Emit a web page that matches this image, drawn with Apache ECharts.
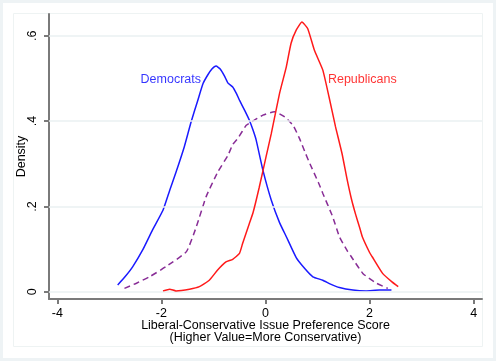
<!DOCTYPE html>
<html><head><meta charset="utf-8">
<script src="https://cdn.jsdelivr.net/npm/echarts@6/dist/echarts.min.js"></script>
<style>html,body{margin:0;padding:0;background:#fff}#c{width:496px;height:361px}</style>
</head><body><div id="c"></div>
<script>
// Democrats density
var democrats = [[-2.84,0.016],[-2.70,0.035],[-2.55,0.059],[-2.36,0.098],[-2.17,0.145],[-1.97,0.191],[-1.84,0.238],[-1.72,0.28],[-1.56,0.34],[-1.43,0.398],[-1.30,0.449],[-1.20,0.488],[-1.11,0.508],[-1.03,0.522],[-0.95,0.529],[-0.87,0.522],[-0.79,0.506],[-0.72,0.489],[-0.63,0.48],[-0.56,0.465],[-0.5,0.449],[-0.40,0.425],[-0.31,0.402],[-0.24,0.379],[-0.18,0.356],[-0.05,0.285],[0.11,0.215],[0.27,0.162],[0.40,0.129],[0.59,0.08],[0.75,0.055],[0.91,0.035],[1.10,0.027],[1.25,0.018],[1.42,0.010],[1.68,0.004],[1.93,0.002],[2.19,0.004],[2.42,0.004]];
// All respondents density (dashed)
var allResp = [[-2.71,0.008],[-2.48,0.02],[-2.23,0.035],[-1.91,0.059],[-1.52,0.094],[-1.33,0.152],[-1.14,0.223],[-0.92,0.28],[-0.72,0.32],[-0.63,0.345],[-0.53,0.36],[-0.37,0.39],[-0.27,0.398],[-0.05,0.414],[0.17,0.422],[0.37,0.41],[0.53,0.39],[0.65,0.36],[0.77,0.324],[0.85,0.301],[1.02,0.255],[1.10,0.231],[1.29,0.176],[1.42,0.129],[1.58,0.094],[1.65,0.082],[1.87,0.043],[2.13,0.020],[2.35,0.008]];
// Republicans density
var republicans = [[-1.97,0.002],[-1.84,0.006],[-1.72,0.002],[-1.46,0.006],[-1.27,0.012],[-1.08,0.027],[-0.92,0.051],[-0.76,0.07],[-0.63,0.076],[-0.5,0.09],[-0.44,0.113],[-0.31,0.16],[-0.24,0.185],[-0.12,0.245],[0.01,0.316],[0.11,0.37],[0.27,0.465],[0.40,0.527],[0.49,0.582],[0.59,0.613],[0.70,0.632],[0.81,0.617],[0.94,0.566],[1.10,0.52],[1.22,0.457],[1.345,0.387],[1.47,0.324],[1.57,0.262],[1.65,0.218],[1.73,0.182],[1.81,0.15],[1.86,0.129],[2.0,0.092],[2.05,0.082],[2.25,0.043],[2.43,0.023],[2.55,0.012]];
var xTicks = [-4,-2,0,2,4];
var yTicks = [0,0.2,0.4,0.6];
var yTickLabels = ['0','.2','.4','.6'];
var seriesLabels = [{name:'Democrats', x:-1.82, y:0.498, color:'#0000ff'},{name:'Republicans', x:1.86, y:0.498, color:'#ff0000'}];

var FONT = 'Liberation Sans';
var chart = echarts.init(document.getElementById('c'), null, {renderer:'canvas'});
chart.setOption({
  animation:false,
  backgroundColor:'#ffffff',
  textStyle:{fontFamily:FONT},
  graphic:[
    {type:'rect', shape:{x:1.5,y:1.5,width:493,height:358}, style:{fill:'none', stroke:'#eef3f5', lineWidth:3}, z:-10},
    {type:'rect', shape:{x:13.5,y:13.5,width:469,height:333}, style:{fill:'none', stroke:'#eef3f3', lineWidth:1}, z:-10}
  ],
  grid:{left:49, right:14, top:14, bottom:62},
  xAxis:{type:'value', min:-4.16, max:4.16,
    axisLine:{show:true, onZero:false, lineStyle:{color:'#7a7a7a', width:2}},
    axisTick:{show:true, length:5, customValues:xTicks, lineStyle:{color:'#7a7a7a', width:2}},
    axisLabel:{customValues:xTicks, color:'#000', fontSize:12.5, fontFamily:FONT, margin:8},
    splitLine:{show:false},
    name:'Liberal-Conservative Issue Preference Score\n(Higher Value=More Conservative)',
    nameLocation:'middle', nameGap:20, nameMoveOverlap:false,
    nameTextStyle:{color:'#000', fontSize:12.5, fontFamily:FONT, lineHeight:12.5}
  },
  yAxis:{type:'value', min:-0.017, max:0.651,
    axisLine:{show:true, onZero:false, lineStyle:{color:'#7a7a7a', width:2}},
    axisTick:{show:true, length:5, customValues:yTicks, lineStyle:{color:'#7a7a7a', width:2}},
    axisLabel:{customValues:yTicks, rotate:90, color:'#000', fontSize:12.5, fontFamily:FONT, margin:10,
      formatter:function(v){ var i = yTicks.findIndex(function(t){return Math.abs(t-v)<1e-6;}); return i>=0?yTickLabels[i]:''; }},
    splitLine:{show:false},
    name:'Density', nameLocation:'middle', nameGap:21, nameRotate:90, nameMoveOverlap:false,
    nameTextStyle:{color:'#000', fontSize:12.5, fontFamily:FONT}
  },
  series:[
    {type:'line', data:[], silent:true,
      markLine:{silent:true, symbol:'none', label:{show:false}, lineStyle:{color:'#eaf1f2', width:1.5, type:'solid'},
        data:yTicks.map(function(t){return {yAxis:t};})}, z:0},
    {name:'All', type:'line', data:allResp, showSymbol:false, smooth:0.15, lineStyle:{color:'#882d96', width:1.5, type:[6,4]}, z:3},
    {name:'Democrats', type:'line', data:democrats, showSymbol:false, smooth:0.15, lineStyle:{color:'#1a1aff', width:1.5}, z:4},
    {name:'Republicans', type:'line', data:republicans, showSymbol:false, smooth:0.15, lineStyle:{color:'#ff1a1a', width:1.5}, z:5},
    {type:'scatter', symbolSize:1, itemStyle:{color:'rgba(0,0,0,0)'}, silent:true,
      label:{show:true, position:'inside', fontSize:12.5, fontFamily:FONT},
      data:seriesLabels.map(function(s){return {value:[s.x,s.y], label:{show:true, position:'inside', formatter:s.name, color:s.color}};}), z:6}
  ]
});
</script></body></html>
